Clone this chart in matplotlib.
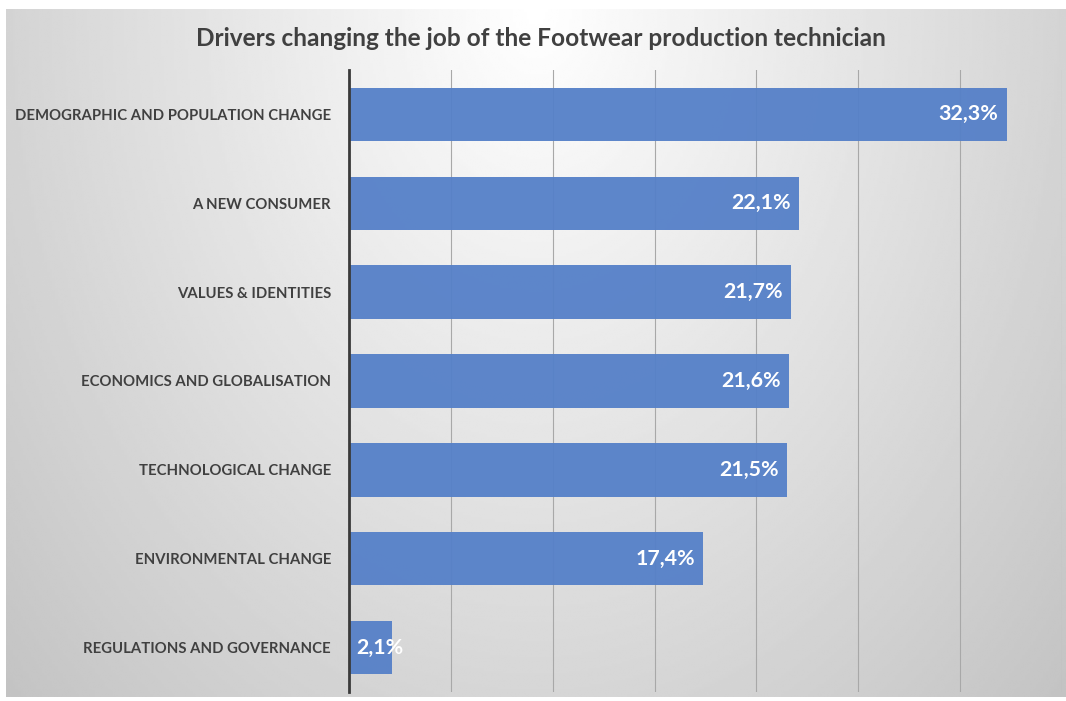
import numpy as np
import matplotlib
matplotlib.use("Agg")
import matplotlib.pyplot as plt

categories = [
    "DEMOGRAPHIC AND POPULATION CHANGE",
    "A NEW CONSUMER",
    "VALUES & IDENTITIES",
    "ECONOMICS AND GLOBALISATION",
    "TECHNOLOGICAL CHANGE",
    "ENVIRONMENTAL CHANGE",
    "REGULATIONS AND GOVERNANCE",
]
values = [32.3, 22.1, 21.7, 21.6, 21.5, 17.4, 2.1]
value_labels = ["32,3%", "22,1%", "21,7%", "21,6%", "21,5%", "17,4%", "2,1%"]
x_ticks = [0, 5, 10, 15, 20, 25, 30, 35]
title = "Drivers changing the job of the Footwear production technician"

plt.rcParams["font.family"] = ["Lato", "DejaVu Sans"]

W, H = 1066, 701
fig = plt.figure(figsize=(W / 100, H / 100), dpi=100)
fig.patch.set_facecolor("white")

# radial grey backdrop, lightest at the top centre
bg = fig.add_axes([6 / W, 1 - 697 / H, 1 - 6 / W, (697 - 9) / H], zorder=0)
gx = np.linspace(-1, 1, 400)
gy = np.linspace(0, 1, 300)
XX, YY = np.meshgrid(gx, gy)
r = np.sqrt(XX ** 2 + 0.9 * YY ** 2)
shade = np.clip(1.0 - 0.17 * r, 0, 1)
bg.imshow(shade, cmap="gray", vmin=0, vmax=1, aspect="auto",
          extent=[0, 1, 1, 0], interpolation="bilinear")
bg.set_axis_off()

ax = fig.add_axes([349 / W, 1 - 692 / H, (1062 - 349) / W, (692 - 70) / H], zorder=1)
ax.patch.set_alpha(0)

y = np.arange(len(categories))
bar_color = "#5580C8"
ax.barh(y, values, height=0.6, color=bar_color, alpha=0.95, zorder=2)

ax.set_xlim(x_ticks[0], x_ticks[-1])
ax.set_ylim(len(categories) - 0.5, -0.5)
ax.set_xticks(x_ticks)
ax.set_xticklabels([])
ax.tick_params(axis="x", length=0)
ax.tick_params(axis="y", length=0, pad=13)
ax.grid(axis="x", color="#A8A8A8", linewidth=0.8, zorder=1)
ax.set_axisbelow(True)
for s in ["top", "right", "bottom"]:
    ax.spines[s].set_visible(False)
ax.spines["left"].set_color("#3A3A3A")
ax.spines["left"].set_linewidth(2)
ax.spines["left"].set_zorder(3)

ax.set_yticks(y)
ax.set_yticklabels(categories, fontsize=11, color="#404040", fontweight="bold")

value_texts = []
for yi, v, lab in zip(y, values, value_labels):
    if v > 5:
        t = ax.annotate(lab, (v, yi), xytext=(-6, 0), textcoords="offset points",
                        ha="right", va="center", color="white", fontsize=15,
                        fontweight="bold", zorder=4)
    else:
        t = ax.annotate(lab, (0, yi), xytext=(5, 0), textcoords="offset points",
                        ha="left", va="center", color="white", fontsize=15,
                        fontweight="bold", zorder=4)
    value_texts.append(t)

title_text = fig.text(541 / W, 1 - 38 / H, title, ha="center", va="center",
                      fontsize=17, fontweight="bold", color="#404040")


def fit_width(texts, target_px):
    """Scale font sizes so the widest text spans target_px."""
    renderer = fig.canvas.get_renderer()
    widest = max(t.get_window_extent(renderer).width for t in texts)
    for t in texts:
        t.set_fontsize(t.get_fontsize() * target_px / widest)


fig.canvas.draw()
fit_width([title_text], 691)
fit_width(ax.get_yticklabels(), 315)
fit_width(value_texts, 60)

fig.savefig("out.png", dpi=100)
